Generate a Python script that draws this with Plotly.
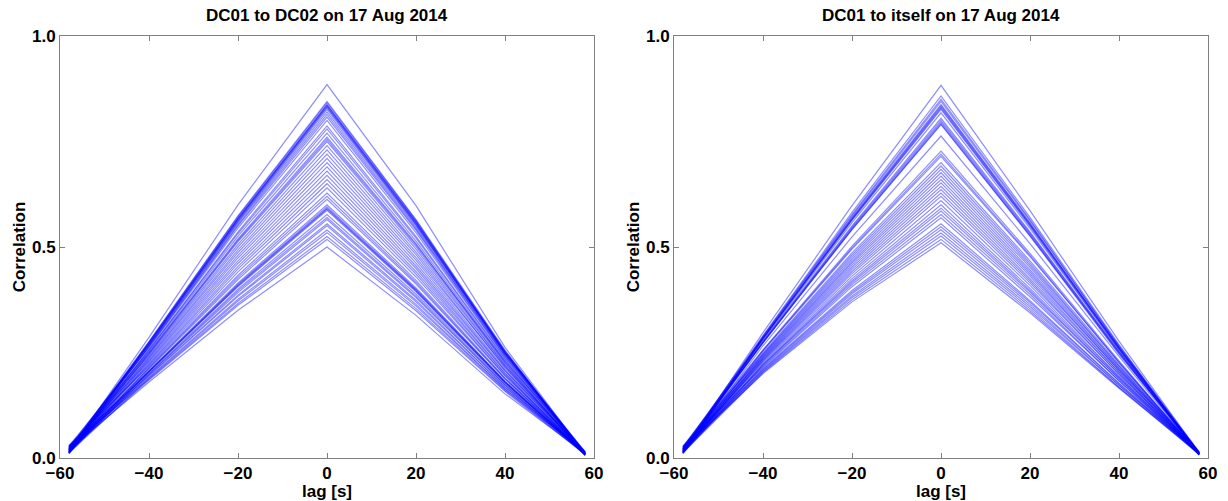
import plotly.graph_objects as go

LAGS = [-58, -40, -20, 0, 20, 40, 58]

# ---- DC01 to DC02: value of each curve at the lags above ----
dc02_m58 = [0.015, 0.020, 0.012, 0.018, 0.010, 0.022, 0.014, 0.025, 0.016, 0.012, 0.020, 0.015,
            0.028, 0.018, 0.012, 0.022, 0.016, 0.024, 0.013, 0.019, 0.026, 0.015, 0.021, 0.012,
            0.027, 0.018, 0.014, 0.023, 0.016, 0.030, 0.012, 0.020, 0.015, 0.025, 0.018, 0.011,
            0.022, 0.016, 0.028, 0.013, 0.019, 0.024, 0.015, 0.021, 0.012, 0.026, 0.017, 0.020]
dc02_m40 = [0.286, 0.276, 0.275, 0.272, 0.273, 0.270, 0.271, 0.268, 0.268, 0.266, 0.264, 0.263,
            0.261, 0.257, 0.256, 0.253, 0.250, 0.249, 0.247, 0.245, 0.242, 0.239, 0.237, 0.234,
            0.231, 0.229, 0.226, 0.223, 0.221, 0.218, 0.215, 0.213, 0.211, 0.207, 0.206, 0.205,
            0.204, 0.204, 0.201, 0.199, 0.198, 0.195, 0.194, 0.191, 0.189, 0.187, 0.185, 0.180]
dc02_m20 = [0.600, 0.574, 0.572, 0.569, 0.567, 0.566, 0.565, 0.562, 0.560, 0.557, 0.553, 0.550,
            0.545, 0.536, 0.532, 0.526, 0.519, 0.516, 0.513, 0.506, 0.500, 0.493, 0.487, 0.480,
            0.474, 0.467, 0.461, 0.454, 0.448, 0.441, 0.433, 0.428, 0.423, 0.415, 0.412, 0.410,
            0.408, 0.406, 0.400, 0.396, 0.392, 0.386, 0.383, 0.376, 0.372, 0.366, 0.362, 0.350]
dc02_0 = [0.885, 0.845, 0.842, 0.838, 0.836, 0.835, 0.832, 0.830, 0.826, 0.820, 0.814, 0.808,
          0.800, 0.787, 0.780, 0.770, 0.760, 0.755, 0.750, 0.740, 0.730, 0.720, 0.710, 0.700,
          0.690, 0.680, 0.670, 0.660, 0.650, 0.640, 0.628, 0.620, 0.613, 0.600, 0.595, 0.592,
          0.590, 0.587, 0.577, 0.570, 0.565, 0.555, 0.550, 0.540, 0.534, 0.525, 0.518, 0.500]
dc02_p20 = [0.598, 0.565, 0.563, 0.560, 0.559, 0.557, 0.555, 0.553, 0.551, 0.547, 0.543, 0.540,
            0.534, 0.525, 0.521, 0.514, 0.508, 0.505, 0.501, 0.495, 0.488, 0.482, 0.475, 0.469,
            0.462, 0.455, 0.449, 0.442, 0.436, 0.429, 0.421, 0.416, 0.412, 0.403, 0.400, 0.398,
            0.396, 0.394, 0.388, 0.383, 0.380, 0.374, 0.370, 0.364, 0.360, 0.354, 0.349, 0.338]
dc02_p40 = [0.262, 0.255, 0.250, 0.254, 0.248, 0.252, 0.250, 0.246, 0.250, 0.244, 0.246, 0.241,
            0.240, 0.236, 0.234, 0.230, 0.226, 0.229, 0.224, 0.220, 0.219, 0.214, 0.216, 0.210,
            0.207, 0.206, 0.201, 0.200, 0.196, 0.195, 0.190, 0.188, 0.187, 0.182, 0.181, 0.180,
            0.178, 0.179, 0.175, 0.173, 0.172, 0.168, 0.168, 0.164, 0.163, 0.160, 0.158, 0.152]
dc02_p58 = [0.010, 0.008, 0.012, 0.006, 0.010, 0.014, 0.008, 0.012, 0.009, 0.015, 0.007, 0.011,
            0.010, 0.013, 0.008, 0.012, 0.009, 0.014, 0.007, 0.011, 0.010, 0.013, 0.008, 0.012,
            0.009, 0.014, 0.010, 0.006, 0.012, 0.010, 0.008, 0.013, 0.009, 0.011, 0.010, 0.007,
            0.012, 0.009, 0.014, 0.010, 0.008, 0.012, 0.011, 0.009, 0.013, 0.010, 0.008, 0.011]

# ---- DC01 to itself ----
self_m58 = [0.015, 0.022, 0.012, 0.018, 0.025, 0.014, 0.020, 0.010, 0.016, 0.023, 0.013, 0.019,
            0.027, 0.015, 0.021, 0.012, 0.024, 0.017, 0.013, 0.022, 0.016, 0.028, 0.014, 0.020,
            0.012, 0.025, 0.018, 0.013, 0.021, 0.016, 0.024, 0.017, 0.011, 0.020, 0.015, 0.026,
            0.013, 0.019, 0.022, 0.014, 0.018, 0.012, 0.021]
self_m40 = [0.297, 0.290, 0.288, 0.287, 0.285, 0.284, 0.284, 0.283, 0.282, 0.280, 0.277, 0.275,
            0.274, 0.273, 0.273, 0.266, 0.256, 0.255, 0.253, 0.249, 0.247, 0.245, 0.243, 0.241,
            0.239, 0.237, 0.235, 0.233, 0.231, 0.229, 0.226, 0.223, 0.221, 0.220, 0.217, 0.215,
            0.212, 0.210, 0.208, 0.206, 0.204, 0.202, 0.200]
self_m20 = [0.598, 0.582, 0.577, 0.574, 0.570, 0.568, 0.566, 0.565, 0.563, 0.558, 0.550, 0.547,
            0.544, 0.542, 0.541, 0.524, 0.502, 0.498, 0.495, 0.486, 0.481, 0.476, 0.471, 0.466,
            0.462, 0.457, 0.452, 0.447, 0.442, 0.437, 0.431, 0.425, 0.420, 0.416, 0.411, 0.406,
            0.397, 0.393, 0.389, 0.384, 0.380, 0.375, 0.370]
self_0 = [0.883, 0.858, 0.850, 0.845, 0.838, 0.835, 0.832, 0.829, 0.826, 0.818, 0.805, 0.800,
          0.796, 0.792, 0.790, 0.763, 0.727, 0.720, 0.715, 0.700, 0.692, 0.684, 0.676, 0.668,
          0.660, 0.652, 0.644, 0.636, 0.628, 0.620, 0.610, 0.600, 0.592, 0.585, 0.577, 0.569,
          0.555, 0.548, 0.541, 0.533, 0.526, 0.518, 0.510]
self_p20 = [0.586, 0.570, 0.565, 0.562, 0.557, 0.555, 0.553, 0.551, 0.549, 0.544, 0.536, 0.533,
            0.530, 0.527, 0.526, 0.508, 0.485, 0.480, 0.477, 0.467, 0.462, 0.457, 0.452, 0.446,
            0.441, 0.436, 0.431, 0.425, 0.420, 0.415, 0.409, 0.402, 0.397, 0.393, 0.388, 0.382,
            0.373, 0.369, 0.364, 0.359, 0.354, 0.349, 0.344]
self_p40 = [0.277, 0.269, 0.265, 0.266, 0.261, 0.262, 0.259, 0.261, 0.257, 0.257, 0.252, 0.252,
            0.248, 0.250, 0.246, 0.241, 0.230, 0.226, 0.227, 0.222, 0.218, 0.217, 0.213, 0.212,
            0.208, 0.208, 0.203, 0.203, 0.198, 0.198, 0.193, 0.192, 0.188, 0.188, 0.183, 0.183,
            0.177, 0.176, 0.172, 0.172, 0.168, 0.167, 0.165]
self_p58 = [0.012, 0.010, 0.015, 0.008, 0.012, 0.010, 0.014, 0.009, 0.011, 0.007, 0.013, 0.010,
            0.012, 0.008, 0.014, 0.010, 0.009, 0.012, 0.007, 0.013, 0.010, 0.011, 0.008, 0.012,
            0.009, 0.014, 0.010, 0.008, 0.012, 0.010, 0.011, 0.009, 0.013, 0.008, 0.011, 0.010,
            0.012, 0.009, 0.014, 0.010, 0.008, 0.012, 0.010]

TITLES = ["DC01 to DC02 on 17 Aug 2014", "DC01 to itself on 17 Aug 2014"]
X_TICKS = [-60, -40, -20, 0, 20, 40, 60]
Y_TICKS = [0.0, 0.5, 1.0]

LINE_COLOR = "rgba(0,0,255,0.45)"
FONT = "Liberation Sans, Arial, Helvetica, sans-serif"
FS = 17

fig = go.Figure()

panels = [
    ("x", "y", [dc02_m58, dc02_m40, dc02_m20, dc02_0, dc02_p20, dc02_p40, dc02_p58]),
    ("x2", "y2", [self_m58, self_m40, self_m20, self_0, self_p20, self_p40, self_p58]),
]
for xa, ya, cols in panels:
    for i in range(len(cols[0])):
        fig.add_trace(go.Scatter(
            x=LAGS, y=[c[i] for c in cols], mode="lines",
            line=dict(color=LINE_COLOR, width=1.2),
            xaxis=xa, yaxis=ya, showlegend=False, hoverinfo="skip"))

bold = dict(family=FONT, size=FS, color="black", weight="bold")
axis_common = dict(
    showline=True, linecolor="#808080", linewidth=1, mirror="ticks",
    ticks="inside", ticklen=5, tickcolor="#808080",
    showgrid=False, zeroline=False, tickfont=bold, automargin=False,
)
xcommon = dict(axis_common, range=[-60, 60], tickvals=X_TICKS,
               ticktext=[("\u2212" + str(-v)) if v < 0 else str(v) for v in X_TICKS],
               title=dict(text="lag [s]", standoff=0, font=bold))
ycommon = dict(axis_common, range=[0, 1], tickvals=Y_TICKS, tickformat=".1f",
               title=dict(text="Correlation", standoff=2, font=bold))

d1 = [0.0, 534 / 1148]
d2 = [614 / 1148, 1.0]

fig.update_layout(
    width=1228, height=501,
    margin=dict(l=60, r=20, t=36, b=43, autoexpand=False),
    paper_bgcolor="white", plot_bgcolor="white",
    xaxis=dict(xcommon, domain=d1, anchor="y"),
    yaxis=dict(ycommon, domain=[0, 1], anchor="x"),
    xaxis2=dict(xcommon, domain=d2, anchor="y2"),
    yaxis2=dict(ycommon, domain=[0, 1], anchor="x2"),
    annotations=[
        dict(text=TITLES[0], xref="paper", yref="paper", x=(d1[0] + d1[1]) / 2, y=1,
             xanchor="center", yanchor="bottom", yshift=9, showarrow=False, font=bold),
        dict(text=TITLES[1], xref="paper", yref="paper", x=(d2[0] + d2[1]) / 2, y=1,
             xanchor="center", yanchor="bottom", yshift=9, showarrow=False, font=bold),
    ],
)

fig.write_html("out.html")
